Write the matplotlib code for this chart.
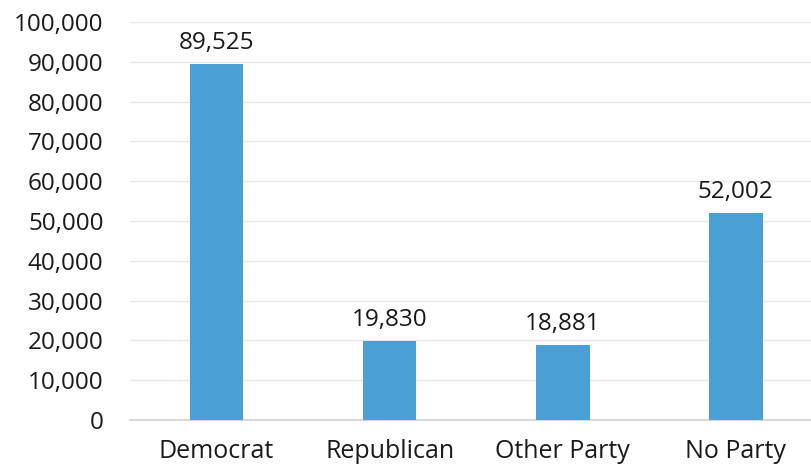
import matplotlib.pyplot as plt
from matplotlib.ticker import FuncFormatter

parties = ["Democrat", "Republican", "Other Party", "No Party"]
voters = [89525, 19830, 18881, 52002]
y_ticks = list(range(0, 100001, 10000))

plt.rcParams["font.family"] = ["Open Sans", "DejaVu Sans"]

fig = plt.figure(figsize=(8.12, 4.70), dpi=100)
ax = fig.add_axes([130 / 812, 50 / 470, 1 - 130 / 812, 398 / 470])

x = range(len(parties))
bars = ax.bar(x, voters, width=0.31, color="#4a9fd5", zorder=3)

for b, v in zip(bars, voters):
    ax.text(b.get_x() + b.get_width() / 2, v + 2300, f"{v:,}",
            ha="center", va="bottom", fontsize=17.5, color="#1a1a1a")

ax.set_xlim(-0.5, 3.44)
ax.set_ylim(0, 100000)
ax.set_yticks(y_ticks)
ax.yaxis.set_major_formatter(FuncFormatter(lambda v, p: f"{int(v):,}"))
ax.set_xticks(list(x))
ax.set_xticklabels(parties)
ax.grid(axis="y", color="#e8e8e8", linewidth=1, zorder=0)
ax.set_axisbelow(True)

for s in ["top", "right", "left"]:
    ax.spines[s].set_visible(False)
ax.spines["bottom"].set_color("#d9d9d9")
ax.spines["bottom"].set_linewidth(1.5)
ax.tick_params(axis="both", length=0, labelsize=17.5, colors="#1a1a1a")
ax.tick_params(axis="x", labelsize=18, pad=14)
ax.tick_params(axis="y", pad=19)

fig.savefig("out.png", dpi=100)
